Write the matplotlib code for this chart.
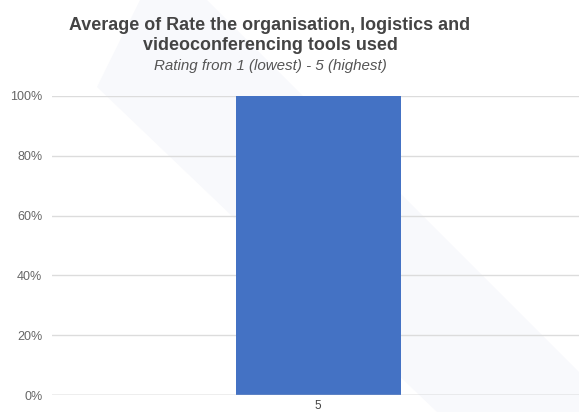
import matplotlib
matplotlib.use("Agg")
import matplotlib.pyplot as plt
from matplotlib.patches import Polygon
from matplotlib.ticker import FuncFormatter

categories = ["5"]
values = [1.0]
yticks = [0, 0.2, 0.4, 0.6, 0.8, 1.0]

plt.rcParams['font.family'] = ['Liberation Sans', 'DejaVu Sans']

W, H = 579, 412
fig = plt.figure(figsize=(W/100, H/100), dpi=100)
fig.patch.set_facecolor('white')

# faint background watermark band (figure pixel coords -> fraction)
pts = [(97, 87), (140, 0), (207, 0), (579, 372), (579, 412), (437, 412)]
poly = Polygon([(x/W, 1 - y/H) for x, y in pts], closed=True,
               transform=fig.transFigure, facecolor='#f8f9fc', edgecolor='none', zorder=-5)
fig.patches.append(poly)

ax = fig.add_axes([52/W, (H-395)/H, 1 - 52/W, (395-96)/H])
ax.set_zorder(1)
ax.set_facecolor('none')
ax.bar(range(len(categories)), values, width=0.313, color='#4472c4', zorder=3)
ax.set_xlim(-0.505, 0.495)
ax.set_ylim(0, 1.0)
ax.set_yticks(yticks)
ax.yaxis.set_major_formatter(FuncFormatter(lambda v, p: f"{int(round(v*100))}%"))
ax.set_xticks(range(len(categories)))
ax.set_xticklabels(categories)
ax.tick_params(axis='y', length=0, pad=7, labelsize=9, labelcolor='#666666')
ax.tick_params(axis='x', length=0, pad=3.5, labelsize=8.5, labelcolor='#444444')
ax.grid(axis='y', color='#dcdcdc', linewidth=1, zorder=1)
ax.set_axisbelow(True)
for s in ax.spines.values():
    s.set_visible(False)
ax.axhline(0, color='#c8c8c8', linewidth=1, zorder=4)

fig.text(270/W, 1 - 25/H, "Average of Rate the organisation, logistics and",
         ha='center', va='center', fontsize=12.9, fontweight='bold', color='#444444')
fig.text(270/W, 1 - 46/H, "videoconferencing tools used",
         ha='center', va='center', fontsize=12.9, fontweight='bold', color='#444444')
fig.text(270/W, 1 - 66/H, "Rating from 1 (lowest) - 5 (highest)",
         ha='center', va='center', fontsize=10.9, fontstyle='italic', color='#555555')

fig.savefig("out.png", dpi=100)
